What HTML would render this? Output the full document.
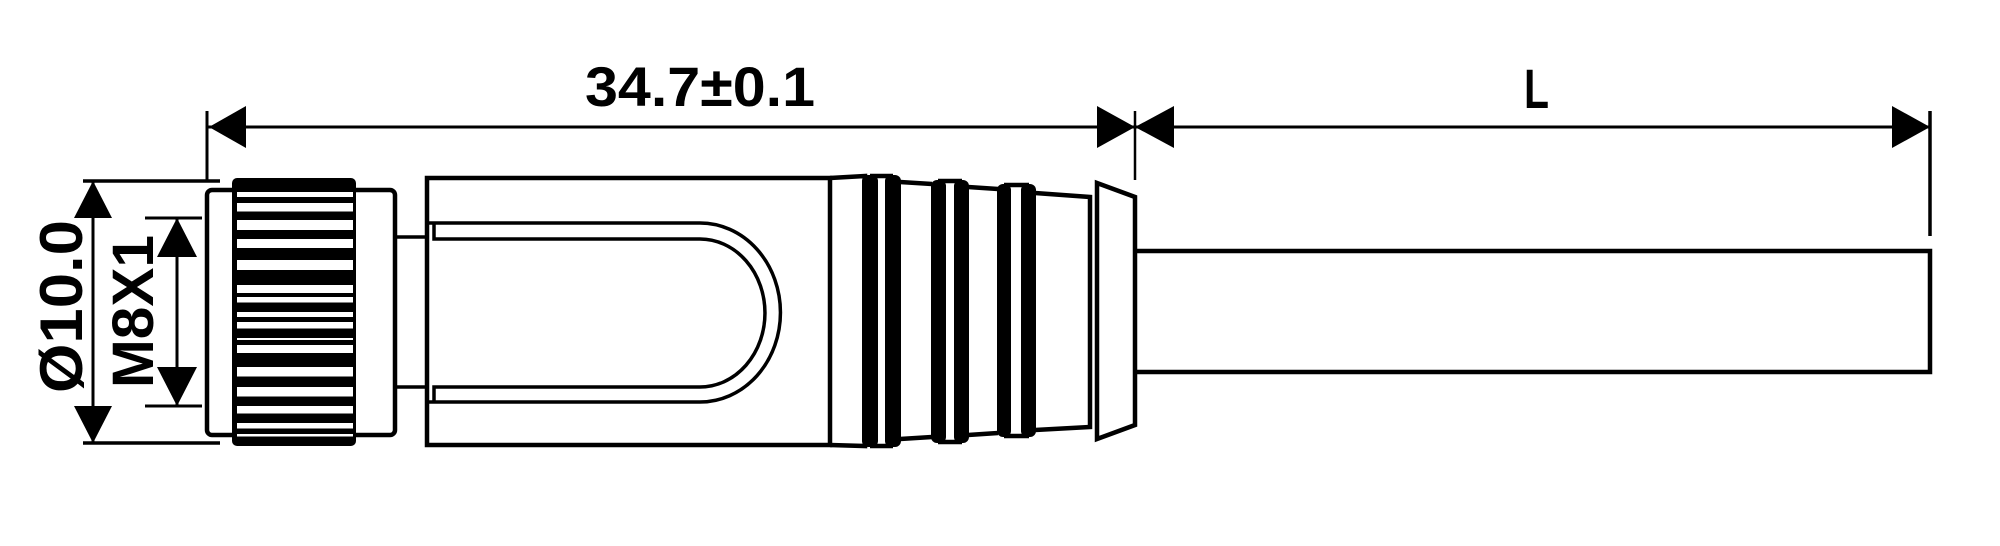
<!DOCTYPE html>
<html><head><meta charset="utf-8"><style>html,body{margin:0;padding:0;background:#fff;}svg{display:block;}</style></head>
<body>
<svg width="2000" height="546" viewBox="0 0 2000 546" xmlns="http://www.w3.org/2000/svg">
<g stroke="#000" fill="none" stroke-width="3">
<line x1="207" y1="111" x2="207" y2="180"/>
<line x1="207" y1="127" x2="1930" y2="127"/>
<line x1="1135" y1="111" x2="1135" y2="180" stroke-width="2.5"/>
<line x1="1930" y1="111" x2="1930" y2="236" stroke-width="3.5"/>
<line x1="83" y1="181" x2="220" y2="181" stroke-width="3.5"/>
<line x1="83" y1="443" x2="220" y2="443" stroke-width="3.5"/>
<line x1="93" y1="181" x2="93" y2="443"/>
<line x1="145" y1="218" x2="202" y2="218"/>
<line x1="145" y1="406" x2="202" y2="406"/>
<line x1="177" y1="218" x2="177" y2="406"/>
</g>
<g fill="#000">
<polygon points="209,127 246,106 246,148"/>
<polygon points="1135,127 1097,106 1097,148"/>
<polygon points="1135,127 1174,106 1174,148"/>
<polygon points="1930,127 1892,106 1892,148"/>
<polygon points="93,181 74,218 112,218"/>
<polygon points="93,443 74,406 112,406"/>
<polygon points="177,218 157,257 197,257"/>
<polygon points="177,406 157,367 197,367"/>
</g>
<text x="585" y="106" font-family="Liberation Sans, sans-serif" font-weight="bold" font-size="56" textLength="230" lengthAdjust="spacingAndGlyphs">34.7±0.1</text>
<text x="1524" y="108" font-family="Liberation Sans, sans-serif" font-weight="bold" font-size="56" textLength="25" lengthAdjust="spacingAndGlyphs">L</text>
<text transform="translate(82,393) rotate(-90)" font-family="Liberation Sans, sans-serif" font-weight="bold" font-size="60" textLength="173" lengthAdjust="spacingAndGlyphs">Ø10.0</text>
<text transform="translate(153,388) rotate(-90)" font-family="Liberation Sans, sans-serif" font-weight="bold" font-size="58" textLength="153" lengthAdjust="spacingAndGlyphs">M8X1</text>

<rect x="207" y="190" width="188" height="245" rx="5" fill="none" stroke="#000" stroke-width="4.5"/>
<rect x="232" y="178" width="124" height="268" rx="5" fill="#000"/>
<g fill="#fff">
<rect x="237" y="192" width="116" height="5"/>
<rect x="237" y="203" width="116" height="8.5"/>
<rect x="237" y="220" width="116" height="10"/>
<rect x="237" y="239" width="116" height="9"/>
<rect x="237" y="260" width="116" height="10"/>
<rect x="237" y="285" width="116" height="8"/>
<rect x="237" y="297" width="116" height="5.5"/>
<rect x="237" y="312" width="116" height="5"/>
<rect x="237" y="322" width="116" height="6.5"/>
<rect x="237" y="338" width="116" height="2"/>
<rect x="237" y="345" width="116" height="8"/>
<rect x="237" y="367" width="116" height="9.5"/>
<rect x="237" y="387" width="116" height="9.5"/>
<rect x="237" y="406" width="116" height="7.5"/>
<rect x="237" y="423" width="116" height="5.5"/>
<rect x="237" y="434" width="116" height="2.5"/>
</g>
<g stroke="#000" fill="none" stroke-width="3.5">
<line x1="395" y1="237" x2="427" y2="237"/>
<line x1="395" y1="387" x2="427" y2="387"/>
<rect x="427" y="178" width="403" height="267" stroke-width="4.5"/>
<path d="M427,223 H700 A80,89 0 0 1 700,402 H427"/>
<path d="M434,223 V239 H700 A65,74 0 0 1 700,387 H434 V402"/>
<path d="M830,178 L865,176 V446 L830,445" stroke-width="4.5"/>
</g>
<g fill="#000">
<rect x="862" y="175" width="16" height="272" rx="6"/>
<rect x="885" y="175" width="16" height="272" rx="6"/>
<rect x="931" y="180" width="15" height="263" rx="6"/>
<rect x="954" y="180" width="15" height="263" rx="6"/>
<rect x="997" y="184" width="14" height="253" rx="6"/>
<rect x="1021" y="184" width="15" height="253" rx="6"/>
</g>
<g stroke="#000" fill="none" stroke-width="4.5">
<line x1="870" y1="176" x2="893" y2="176"/>
<line x1="870" y1="446" x2="893" y2="446"/>
<line x1="938" y1="181" x2="962" y2="181"/>
<line x1="938" y1="442" x2="962" y2="442"/>
<line x1="1004" y1="185" x2="1029" y2="185"/>
<line x1="1004" y1="436" x2="1029" y2="436"/>
<line x1="900" y1="182" x2="932" y2="184"/>
<line x1="900" y1="439" x2="932" y2="437"/>
<line x1="968" y1="187" x2="998" y2="189"/>
<line x1="968" y1="435" x2="998" y2="433"/>
<path d="M1035,193 L1090,197 V427 L1035,430"/>
<path d="M1097,183 L1135,197 V425 L1097,439 Z"/>
<path d="M1137,251 H1930 V372 H1137" stroke-width="4.5"/>
</g>
</svg>
</body></html>
